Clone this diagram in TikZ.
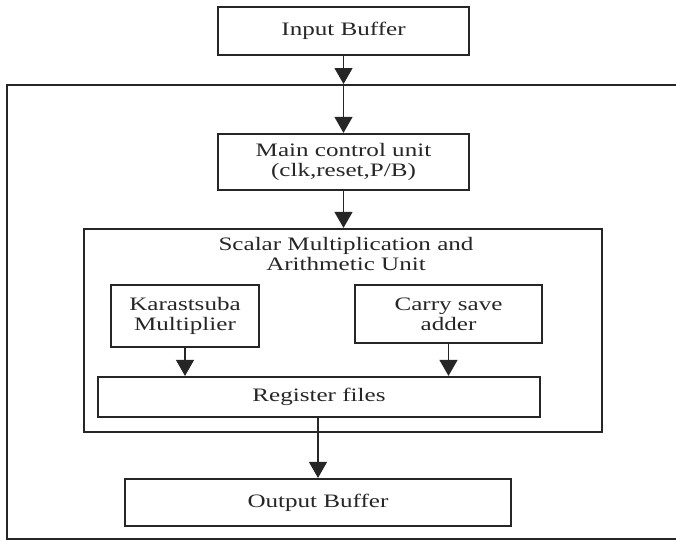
\documentclass[tikz,border=0pt]{standalone}
\usepackage{fontspec}
\setmainfont{Liberation Serif}[FakeStretch=1.32]
\usetikzlibrary{arrows.meta}
\begin{document}
\begin{tikzpicture}[x=1pt,y=-1pt,
  box/.style={draw=black!85, line width=2.2pt, inner sep=0pt, align=center,
    font=\fontsize{19}{20}\selectfont, text=black!85},
  conn/.style={draw=black!85, line width=1.1pt,
    -{Triangle[width=18pt,length=16pt]}, shorten >=0pt}]
\clip (0,0) rectangle (676,539);
\fill[white] (0,0) rectangle (676,539);
% outer frame (right side off the picture)
\node[box, minimum width=700pt, minimum height=454pt, anchor=north west] (outer) at (6,84) {};
\node[box, minimum width=251pt, minimum height=48pt] (ib) at (343.5,31) {Input Buffer};
\node[box, minimum width=251pt, minimum height=56pt] (mcu) at (343.5,162) {Main control unit\\(clk,reset,P/B)};
\node[box, minimum width=518pt, minimum height=203pt] (smau) at (343,330.5) {};
\node[font=\fontsize{19}{20}\selectfont, text=black!85, align=center, inner sep=0pt] (smaut) at (346,254) {Scalar Multiplication and\\Arithmetic Unit};
\node[box, minimum width=148pt, minimum height=62pt] (kar) at (185,316) {Karastsuba\\Multiplier};
\node[box, minimum width=187pt, minimum height=58pt] (csa) at (448.5,314) {Carry save\\adder};
\node[box, minimum width=442pt, minimum height=40pt] (reg) at (319,397) {Register files};
\node[box, minimum width=386pt, minimum height=47pt] (ob) at (318,502.5) {Output Buffer};
\coordinate (in1) at (ib.south |- outer.north);
\draw[conn] (ib.south) -- (in1);
\draw[conn] (in1) -- (mcu.north);
\draw[conn] (mcu.south) -- (mcu.south |- smau.north);
\draw[conn] (kar.south) -- (kar.south |- reg.north);
\draw[conn] (csa.south) -- (csa.south |- reg.north);
\draw[conn] (ob.north |- reg.south) -- (ob.north);
\end{tikzpicture}
\end{document}
